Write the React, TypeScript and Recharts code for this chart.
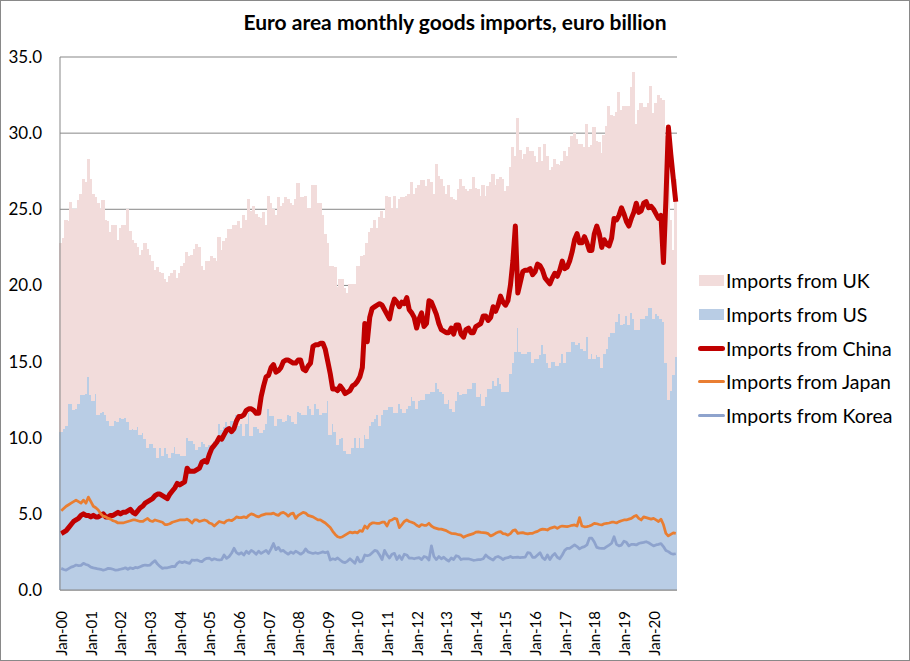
import { ComposedChart, Bar, Line, XAxis, YAxis, CartesianGrid } from 'recharts';

const MONTH_NAMES = ['Jan', 'Feb', 'Mar', 'Apr', 'May', 'Jun', 'Jul', 'Aug', 'Sep', 'Oct', 'Nov', 'Dec'];
const FIRST_YEAR = 2000;
const MONTH_COUNT = 250; // Jan-00 .. Oct-20

const categories: string[] = Array.from({ length: MONTH_COUNT }, (_, i) => {
    const yy = String((FIRST_YEAR + Math.floor(i / 12)) % 100).padStart(2, '0');
    return `${MONTH_NAMES[i % 12]}-${yy}`;
});

const yTicks = [0, 5, 10, 15, 20, 25, 30, 35];

// euro billion, one row per year
const usImports = [
    10.4, 10.6, 10.8, 12.2, 12.2, 11.8, 11.9, 12.2, 12.8, 12.8, 12.9, 14.0,
    12.8, 12.4, 12.9, 11.5, 11.6, 11.7, 11.5, 11.1, 10.8, 10.8, 11.1, 11.0,
    11.3, 11.2, 11.3, 11.0, 10.5, 10.6, 10.5, 10.7, 10.2, 10.3, 9.9, 9.3,
    9.6, 9.6, 9.3, 8.7, 9.3, 8.8, 9.3, 8.9, 8.7, 9.0, 9.4, 8.9,
    8.9, 8.8, 8.8, 10.0, 9.8, 9.8, 9.6, 9.2, 9.4, 9.7, 9.6, 9.4,
    9.5, 9.5, 9.8, 10.0, 10.9, 10.5, 10.7, 11.0, 10.8, 11.1, 11.1, 11.5,
    10.8, 10.9, 10.1, 10.9, 11.6, 10.1, 10.7, 10.7, 10.6, 10.3, 10.5, 10.9,
    11.9, 11.4, 11.4, 10.8, 11.2, 11.2, 11.0, 11.1, 11.5, 11.4, 11.0, 10.9,
    11.7, 11.6, 11.5, 11.5, 12.1, 11.9, 11.5, 12.2, 11.9, 11.5, 11.6, 11.6,
    12.4, 10.2, 10.9, 10.4, 9.5, 9.9, 10.0, 9.1, 8.9, 8.9, 9.3, 10.0,
    9.3, 10.0, 9.3, 10.2, 9.9, 10.8, 11.0, 11.2, 11.5, 10.8, 11.5, 11.8,
    11.8, 12.0, 12.0, 11.6, 11.6, 12.2, 11.9, 11.6, 11.9, 12.1, 12.7, 12.4,
    11.9, 12.4, 12.5, 12.5, 12.9, 12.9, 13.0, 13.0, 13.6, 13.2, 13.0, 12.9,
    12.2, 12.5, 11.9, 11.7, 12.4, 13.0, 12.8, 12.9, 12.9, 13.2, 13.2, 13.6,
    13.6, 12.7, 12.9, 12.1, 12.7, 13.2, 13.2, 13.7, 13.4, 13.9, 13.5, 13.0,
    13.0, 13.0, 14.2, 14.9, 15.6, 17.2, 15.6, 15.5, 15.5, 15.6, 15.6, 14.9,
    15.2, 15.2, 15.4, 16.1, 15.5, 14.9, 14.6, 15.0, 15.0, 14.7, 14.9, 15.5,
    14.9, 15.6, 15.6, 16.3, 16.3, 16.1, 16.2, 15.8, 15.7, 16.6, 15.2, 15.5,
    15.2, 15.4, 15.3, 14.6, 15.5, 15.8, 16.6, 16.9, 16.9, 17.6, 18.1, 17.4,
    17.5, 18.0, 17.4, 18.2, 17.8, 17.1, 17.1, 17.8, 17.8, 18.0, 18.5, 18.5,
    17.8, 18.1, 18.0, 17.8, 17.6, 14.9, 12.5, 13.1, 14.1, 15.3,
];

const ukImports = [
    12.4, 12.5, 13.5, 12.0, 13.3, 13.2, 13.1, 13.4, 13.2, 14.2, 13.9, 14.3,
    14.2, 13.6, 12.9, 13.9, 13.4, 13.9, 12.8, 13.1, 12.7, 13.2, 12.9, 12.0,
    12.5, 12.8, 12.7, 14.0, 13.1, 12.4, 12.3, 11.8, 11.8, 12.0, 12.9, 13.1,
    12.4, 12.0, 11.7, 12.5, 11.6, 12.0, 11.1, 11.3, 11.9, 11.8, 11.6, 11.6,
    11.9, 12.5, 12.7, 12.2, 12.1, 12.2, 12.8, 13.5, 13.1, 11.6, 11.4, 12.2,
    12.1, 12.4, 12.0, 11.6, 12.3, 11.8, 12.2, 12.1, 12.9, 12.6, 12.9, 12.5,
    13.4, 12.9, 14.5, 13.4, 14.1, 14.8, 14.5, 14.0, 13.9, 14.1, 14.3, 13.1,
    14.0, 14.0, 13.6, 13.8, 14.6, 14.0, 14.4, 14.7, 14.2, 14.0, 14.3, 14.8,
    15.0, 14.2, 14.3, 14.4, 13.0, 13.2, 15.1, 14.4, 13.5, 13.9, 13.0, 11.8,
    10.4, 11.1, 10.4, 10.8, 10.4, 10.5, 10.4, 10.7, 10.6, 11.2, 10.8, 10.1,
    12.0, 11.3, 12.6, 11.8, 12.9, 12.7, 12.8, 13.1, 12.3, 13.7, 13.4, 12.6,
    14.1, 13.8, 13.1, 14.3, 13.4, 13.5, 13.9, 14.2, 14.0, 13.9, 14.1, 13.6,
    14.5, 14.2, 14.4, 14.4, 13.6, 14.1, 13.8, 13.0, 14.4, 14.0, 14.0, 13.6,
    13.8, 14.1, 13.9, 14.0, 13.2, 13.3, 14.2, 13.6, 13.4, 13.0, 13.1, 13.5,
    12.8, 13.6, 13.0, 14.5, 13.2, 13.3, 13.6, 13.6, 13.2, 13.1, 13.6, 14.0,
    13.2, 13.5, 13.6, 14.2, 12.9, 13.8, 13.3, 12.8, 13.1, 13.5, 13.2, 13.9,
    13.3, 12.9, 13.7, 12.1, 13.8, 13.6, 13.0, 12.8, 13.3, 13.3, 13.0, 12.7,
    13.9, 12.9, 13.5, 13.5, 13.7, 13.5, 13.1, 13.5, 13.4, 14.0, 13.9, 13.7,
    15.2, 14.1, 14.1, 14.1, 14.4, 14.7, 15.2, 14.3, 14.2, 13.8, 14.6, 14.1,
    14.3, 13.8, 14.4, 14.8, 16.2, 13.5, 14.4, 14.2, 13.9, 13.7, 13.5, 14.6,
    13.5, 13.9, 14.5, 14.5, 14.6, 14.9, 15.6, 11.2, 8.2, 11.7,
];

const chinaImports = [
    3.7, 3.8, 3.9, 4.1, 4.3, 4.5, 4.6, 4.7, 4.9, 5.0, 4.9, 4.9,
    4.8, 4.9, 4.8, 4.8, 4.9, 5.0, 4.8, 4.8, 4.9, 4.9, 5.0, 5.1,
    5.0, 5.1, 5.1, 5.2, 5.3, 5.1, 5.0, 5.2, 5.4, 5.5, 5.7, 5.8,
    5.9, 6.0, 6.2, 6.3, 6.3, 6.2, 6.1, 6.0, 6.3, 6.5, 6.7, 7.0,
    6.9, 7.0, 7.1, 8.0, 7.8, 7.8, 7.8, 7.9, 8.0, 8.4, 8.5, 8.4,
    8.9, 9.3, 9.5, 9.7, 10.0, 9.9, 10.2, 10.5, 10.6, 10.4, 10.6, 11.1,
    11.4, 11.4, 11.5, 11.8, 11.9, 11.9, 11.8, 11.6, 11.6, 12.7, 13.4, 14.0,
    14.1, 14.6, 14.8, 14.3, 14.4, 14.6, 15.0, 15.1, 15.1, 15.0, 14.9, 14.9,
    15.1, 15.1, 14.5, 14.4, 14.7, 14.9, 16.0, 16.1, 16.1, 16.2, 16.2, 15.8,
    15.0, 14.2, 13.2, 13.2, 13.1, 13.4, 13.2, 12.9, 13.0, 13.1, 13.4, 13.5,
    13.7, 14.0, 14.6, 17.5, 16.3, 17.9, 18.5, 18.6, 18.7, 18.8, 18.7, 18.4,
    18.1, 17.8, 18.6, 19.1, 18.9, 18.6, 18.9, 18.8, 19.2, 18.4, 18.2, 17.9,
    17.2, 17.8, 18.2, 17.3, 17.5, 19.0, 18.9, 18.5, 18.1, 17.5, 17.1, 17.0,
    16.9, 16.9, 17.2, 16.8, 17.4, 17.4, 16.8, 16.6, 17.1, 17.2, 16.9, 16.9,
    17.3, 17.4, 17.5, 18.0, 18.0, 17.7, 17.9, 18.6, 18.3, 18.7, 19.3, 18.9,
    18.7, 19.0, 20.0, 21.6, 23.9, 19.5, 20.2, 20.9, 21.0, 21.0, 21.1, 20.7,
    20.9, 21.4, 21.3, 21.0, 20.5, 20.3, 20.1, 20.5, 20.8, 20.6, 21.0, 21.6,
    21.1, 21.2, 21.6, 22.2, 23.0, 23.4, 22.8, 22.8, 23.2, 22.8, 22.3, 22.3,
    23.4, 23.9, 23.4, 22.5, 23.0, 22.7, 22.6, 23.1, 24.4, 24.3, 24.6, 25.1,
    24.7, 24.2, 23.9, 24.4, 24.8, 25.4, 24.8, 24.9, 25.4, 25.5, 25.1, 25.2,
    25.0, 24.7, 24.4, 24.6, 21.5, 25.6, 30.4, 28.6, 27.0, 25.5,
];

const japanImports = [
    5.2, 5.35, 5.5, 5.6, 5.7, 5.8, 5.9, 5.8, 5.7, 5.9, 5.7, 6.1,
    5.8, 5.5, 5.4, 5.25, 5.0, 4.85, 4.8, 4.7, 4.65, 4.55, 4.5, 4.4,
    4.4, 4.4, 4.45, 4.5, 4.55, 4.6, 4.6, 4.55, 4.5, 4.5, 4.6, 4.7,
    4.55, 4.5, 4.6, 4.55, 4.5, 4.45, 4.3, 4.3, 4.35, 4.45, 4.5, 4.55,
    4.6, 4.6, 4.6, 4.65, 4.55, 4.4, 4.6, 4.6, 4.5, 4.55, 4.6, 4.55,
    4.4, 4.35, 4.2, 4.35, 4.5, 4.45, 4.4, 4.55, 4.6, 4.55, 4.65, 4.8,
    4.75, 4.75, 4.8, 4.75, 4.9, 5.0, 4.95, 4.85, 4.8, 4.9, 4.95, 5.0,
    5.0, 5.0, 5.05, 4.95, 4.9, 5.05, 5.1, 5.0, 4.85, 5.0, 5.05, 4.7,
    4.9, 5.0, 5.1, 5.05, 4.9, 4.85, 4.8, 4.7, 4.6, 4.6, 4.5, 4.4,
    4.25, 4.1, 3.85, 3.65, 3.5, 3.45, 3.5, 3.6, 3.7, 3.8, 3.75, 3.8,
    3.75, 3.9, 3.85, 4.2, 4.05, 4.3, 4.4, 4.4, 4.38, 4.38, 4.45, 4.45,
    4.2, 4.55, 4.6, 4.7, 4.65, 4.1, 4.3, 4.5, 4.6, 4.5, 4.45, 4.38,
    4.25, 4.16, 4.3, 4.25, 4.25, 4.38, 4.2, 4.1, 4.05, 4.0, 4.0, 3.95,
    3.9, 3.8, 3.72, 3.7, 3.68, 3.63, 3.6, 3.46, 3.55, 3.6, 3.65, 3.7,
    3.8, 3.82, 3.78, 3.77, 3.75, 3.7, 3.55, 3.62, 3.72, 3.8, 3.83, 3.7,
    3.68, 3.6, 3.7, 3.9, 3.95, 3.72, 3.75, 3.77, 3.72, 3.68, 3.72, 3.72,
    3.8, 3.85, 3.95, 4.0, 3.98, 3.94, 4.05, 4.1, 4.15, 4.05, 4.15, 4.2,
    4.18, 4.16, 4.2, 4.25, 4.27, 4.2, 4.75, 4.2, 4.15, 4.16, 4.2, 4.27,
    4.38, 4.35, 4.3, 4.27, 4.35, 4.38, 4.4, 4.45, 4.45, 4.4, 4.49, 4.55,
    4.6, 4.6, 4.65, 4.7, 4.82, 4.9, 4.7, 4.6, 4.8, 4.75, 4.7, 4.65,
    4.7, 4.6, 4.5, 4.65, 4.3, 3.72, 3.55, 3.65, 3.75, 3.72,
];

const koreaImports = [
    1.42, 1.35, 1.3, 1.4, 1.5, 1.55, 1.64, 1.6, 1.62, 1.75, 1.68, 1.62,
    1.5, 1.45, 1.42, 1.38, 1.36, 1.3, 1.35, 1.42, 1.4, 1.36, 1.3, 1.32,
    1.36, 1.4, 1.46, 1.36, 1.46, 1.4, 1.48, 1.46, 1.53, 1.6, 1.64, 1.62,
    1.64, 1.8, 1.93, 1.7, 1.55, 1.42, 1.46, 1.46, 1.5, 1.55, 1.53, 1.75,
    1.86, 1.8, 1.86, 1.8, 1.75, 1.97, 1.95, 1.97, 1.9, 1.86, 2.0, 2.08,
    2.1, 1.97, 2.05, 2.0, 1.97, 2.0, 2.3, 2.08, 2.19, 2.41, 2.74, 2.45,
    2.35, 2.45, 2.3, 2.55, 2.4, 2.6, 2.5, 2.35, 2.55, 2.4, 2.5, 2.6,
    2.4, 2.7, 3.05, 2.65, 2.8, 2.55, 2.6, 2.45, 2.35, 2.5, 2.4, 2.55,
    2.45, 2.35, 2.45, 2.7, 2.5, 2.45, 2.4, 2.45, 2.4, 2.45, 2.5, 2.45,
    2.5, 1.97, 2.05, 2.0, 2.1, 1.97, 1.85, 1.8, 1.9, 2.05, 1.9, 1.75,
    2.15, 1.85, 1.9, 2.3, 2.25, 2.3, 2.45, 2.6, 2.55, 2.3, 2.0, 2.6,
    2.3, 2.1, 2.35, 2.41, 2.0, 2.25, 2.0, 2.35, 2.3, 2.1, 2.1, 2.05,
    2.1, 2.12, 2.0, 2.2, 2.15, 1.97, 2.9, 2.2, 2.0, 2.2, 2.05, 2.15,
    2.0, 1.9, 2.1, 2.0, 2.25, 2.2, 2.0, 2.05, 2.05, 2.05, 2.0, 1.95,
    1.97, 2.0, 2.0, 2.05, 2.3, 2.15, 2.05, 1.97, 2.15, 2.2, 2.12, 2.0,
    2.1, 2.12, 2.2, 2.12, 2.15, 2.16, 2.12, 2.15, 2.16, 2.45, 2.42, 2.15,
    2.15, 2.3, 2.45, 2.12, 2.0, 2.3, 2.0, 2.25, 2.4, 2.15, 2.05, 2.3,
    2.6, 2.74, 2.74, 2.85, 2.96, 2.85, 2.7, 2.8, 2.85, 2.96, 3.4, 3.4,
    3.15, 2.8, 2.75, 2.74, 2.74, 2.85, 2.95, 3.07, 3.5, 3.0, 2.9, 2.95,
    3.2, 3.13, 2.9, 3.0, 3.0, 2.96, 3.05, 3.1, 3.13, 3.17, 3.1, 3.0,
    2.9, 2.96, 3.0, 3.05, 2.85, 2.6, 2.52, 2.4, 2.35, 2.38,
];

const COLORS = {
    uk: '#F2DCDB',
    us: '#B9CDE5',
    china: '#C00000',
    japan: '#E97E32',
    korea: '#8EA3CD',
};

const FONT = 'Lato, "Open Sans", sans-serif';

const data = categories.map((month, i) => ({
    month,
    us: usImports[i],
    uk: ukImports[i],
    china: chinaImports[i],
    japan: japanImports[i],
    korea: koreaImports[i],
}));

const legendItems = [
    { label: 'Imports from UK', color: COLORS.uk, kind: 'box' },
    { label: 'Imports from US', color: COLORS.us, kind: 'box' },
    { label: 'Imports from China', color: COLORS.china, kind: 'line', width: 5 },
    { label: 'Imports from Japan', color: COLORS.japan, kind: 'line', width: 3 },
    { label: 'Imports from Korea', color: COLORS.korea, kind: 'line', width: 3 },
];

function MonthTick({ x, y, payload }: any) {
    return (
        <text
            x={x}
            y={y + 13}
            transform={`rotate(-90, ${x}, ${y + 13})`}
            textAnchor="end"
            dominantBaseline="central"
            fontSize={15}
            fontFamily={FONT}
            fill="#000"
        >
            {payload.value}
        </text>
    );
}

// columns with no gap between them, slightly widened so neighbours touch
const columnShape = (color: string) => (props: any) => {
    const { x, y, width, height } = props;
    if (!height || height <= 0) return <g />;
    return (
        <rect
            x={x - 0.6}
            y={y}
            width={width + 1.2}
            height={height}
            fill={color}
            shapeRendering="crispEdges"
        />
    );
};

export default function App() {
    return (
        <div style={{ position: 'absolute', left: 0, top: 0, width: 910, height: 661, background: '#fff' }}>
            <div
                style={{
                    position: 'absolute',
                    left: 0,
                    top: 9,
                    width: 910,
                    textAlign: 'center',
                    fontFamily: FONT,
                    fontWeight: 700,
                    fontSize: 21,
                    color: '#000',
                }}
            >
                Euro area monthly goods imports, euro billion
            </div>

            <div style={{ position: 'absolute', left: 0, top: 0 }}>
                <ComposedChart
                    width={910}
                    height={661}
                    data={data}
                    margin={{ top: 57, right: 233, bottom: 0, left: 0 }}
                    barCategoryGap={0}
                    barGap={0}
                >
                    <CartesianGrid vertical={false} stroke="#878787" />
                    <XAxis
                        dataKey="month"
                        interval={11}
                        height={71}
                        tickLine={false}
                        axisLine={{ stroke: '#878787' }}
                        tick={<MonthTick />}
                    />
                    <YAxis
                        width={60}
                        domain={[0, 35]}
                        ticks={yTicks}
                        tickFormatter={(v: number) => v.toFixed(1)}
                        tickLine={false}
                        tickMargin={12}
                        axisLine={{ stroke: '#878787' }}
                        tick={{ fill: '#000', fontSize: 17, fontFamily: FONT }}
                    />
                    <Bar dataKey="us" stackId="trade" fill={COLORS.us} shape={columnShape(COLORS.us)} isAnimationActive={false} />
                    <Bar dataKey="uk" stackId="trade" fill={COLORS.uk} shape={columnShape(COLORS.uk)} isAnimationActive={false} />
                    <Line dataKey="china" stroke={COLORS.china} strokeWidth={5} dot={false} activeDot={false} strokeLinejoin="round" isAnimationActive={false} />
                    <Line dataKey="japan" stroke={COLORS.japan} strokeWidth={2.75} dot={false} activeDot={false} strokeLinejoin="round" isAnimationActive={false} />
                    <Line dataKey="korea" stroke={COLORS.korea} strokeWidth={2.75} dot={false} activeDot={false} strokeLinejoin="round" isAnimationActive={false} />
                </ComposedChart>
            </div>

            {/* Legend */}
            <div style={{ position: 'absolute', left: 696, top: 264, fontFamily: FONT, fontSize: 19.5, color: '#000' }}>
                {legendItems.map((item) => (
                    <div key={item.label} style={{ display: 'flex', alignItems: 'center', height: 33.7 }}>
                        <div style={{ width: 30, display: 'flex', alignItems: 'center', justifyContent: 'center' }}>
                            {item.kind === 'box' ? (
                                <div style={{ width: 25, height: 11, background: item.color }} />
                            ) : (
                                <div style={{ width: 27, height: item.width, background: item.color, borderRadius: 3 }} />
                            )}
                        </div>
                        <span style={{ whiteSpace: 'nowrap' }}>{item.label}</span>
                    </div>
                ))}
            </div>

            <div
                style={{
                    position: 'absolute',
                    left: 0,
                    top: 0,
                    width: 910,
                    height: 661,
                    boxSizing: 'border-box',
                    border: '1px solid #898989',
                    pointerEvents: 'none',
                }}
            />
        </div>
    );
}
